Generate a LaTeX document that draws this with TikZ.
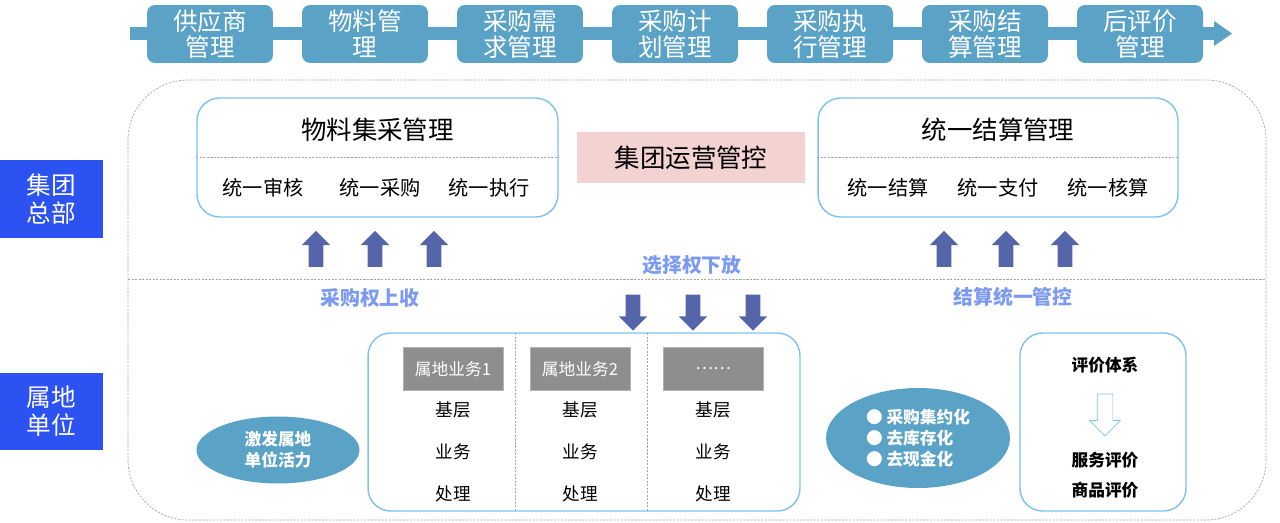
\documentclass[tikz,border=0pt]{standalone}
\usepackage{fontspec}
\setmainfont{Noto Sans CJK SC}
\usepackage{tikz}
\usetikzlibrary{arrows,positioning,shapes.geometric,shapes.arrows}

\definecolor{stepblue}{HTML}{5AA2C6}
\definecolor{deptblue}{HTML}{2D52F2}
\definecolor{frameblue}{HTML}{7DC1EE}
\definecolor{arrowblue}{HTML}{5565A9}
\definecolor{labelblue}{HTML}{7D9AF2}
\definecolor{pinkbg}{HTML}{F3D3D1}
\definecolor{headgray}{HTML}{8E8E8E}

\tikzset{
  stepbox/.style={fill=stepblue, rounded corners=0.16cm, minimum width=2.52cm,
    minimum height=1.16cm, inner sep=0pt, text=white, align=center,
    font=\fontsize{14}{15}\selectfont},
  deptbox/.style={fill=deptblue, minimum width=2.06cm, minimum height=1.56cm,
    inner sep=0pt, text=white, align=center, font=\fontsize{14}{16}\selectfont},
  panel/.style={draw=frameblue, thick, rounded corners=0.45cm, inner sep=0pt},
  gridline/.style={gray!70, dash pattern=on 1.2pt off 0.8pt, thin},
  uparrow/.style={single arrow, fill=arrowblue, rotate=90, inner sep=0.14cm,
    single arrow head extend=0.14cm, single arrow head indent=0pt,
    minimum height=0.72cm, anchor=center},
  downarrow/.style={uparrow, rotate=180},
  flowlabel/.style={text=labelblue, font=\bfseries\fontsize{11.3}{13}\selectfont},
  paneltitle/.style={font=\fontsize{14.5}{16}\selectfont},
  rowtext/.style={font=\fontsize{11.5}{13}\selectfont},
  headbox/.style={fill=headgray, draw=gray!60, minimum width=2.0cm, minimum height=0.86cm,
    inner sep=0pt, text=white, font=\fontsize{9.5}{11}\selectfont},
  cell/.style={font=\fontsize{10}{12}\selectfont},
  blob/.style={ellipse, fill=stepblue, inner sep=0pt, text=white, align=center,
    font=\bfseries\fontsize{9.5}{12}\selectfont},
}

\begin{document}
\begin{tikzpicture}[x=0.02cm,y=-0.02cm]
  \useasboundingbox (0,0) rectangle (1280,523);

  % Draw process band
  \fill[stepblue] (130,27) rectangle (1216,40);
  \fill[stepblue] (1214,21) -- (1232,33.5) -- (1214,46) -- cycle;
  \foreach \name/\txt [count=\i from 0] in {sup/{供应商\\管理}, mat/{物料管\\理},
      dem/{采购需\\求管理}, plan/{采购计\\划管理}, exe/{采购执\\行管理},
      set/{采购结\\算管理}, eval/{后评价\\管理}}
    \node[stepbox] (\name) at (210+155*\i,34) {\txt};

  % Draw outer frame and split line
  \draw[gridline, rounded corners=1.2cm] (128,80) rectangle (1266,520);
  \draw[gridline] (128,279) -- (1266,279);

  % Level labels
  \node[deptbox] (hq) at (51.5,199) {集团\\总部};
  \node[deptbox] (local) at (51.5,411.5) {属地\\单位};

  % Group level boxes
  \node[panel, minimum width=7.22cm, minimum height=2.38cm] (matbox) at (377.5,157.5) {};
  \draw[gridline] (matbox.west) -- (matbox.east);
  \node[paneltitle] (mattitle) at (377.5,130) {物料集采管理};
  \node[rowtext] (m1) at (263,188) {统一审核};
  \node[rowtext] (m2) at (380,188) {统一采购};
  \node[rowtext] (m3) at (489,188) {统一执行};

  \node[fill=pinkbg, minimum width=4.56cm, minimum height=1.02cm,
    font=\fontsize{14.5}{16}\selectfont] (ops) at (691,157.5) {集团运营管控};

  \node[panel, minimum width=7.2cm, minimum height=2.38cm] (setbox) at (998,157.5) {};
  \draw[gridline] (setbox.west) -- (setbox.east);
  \node[paneltitle] (settitle) at (998,130) {统一结算管理};
  \node[rowtext] (s1) at (888,188) {统一结算};
  \node[rowtext] (s2) at (998,188) {统一支付};
  \node[rowtext] (s3) at (1108,188) {统一核算};

  % Arrows between levels
  \foreach \x/\name in {316/ua, 375/ub, 434/uc, 944/ud, 1006/ue, 1065/uf}
    \node[uparrow] (\name) at (\x,252.5) {};
  \foreach \x/\name in {633/da, 693/db, 753/dc}
    \node[downarrow] (\name) at (\x,309) {};
  \node[flowlabel] (up) at (370,298) {采购权上收};
  \node[flowlabel] (down) at (692,265) {选择权下放};
  \node[flowlabel] (ctrl) at (1013,297) {结算统一管控};

  % Local units
  \node[blob, minimum width=3.26cm, minimum height=1.34cm] (vital) at (278,450)
    {激发属地\\单位活力};

  \node[panel, minimum width=8.64cm, minimum height=3.56cm] (biz) at (584,422) {};
  \draw[gridline] (515,333) -- (515,511);
  \draw[gridline] (647,333) -- (647,511);
  \foreach \x/\name/\txt in {453/b1/属地业务1, 580/b2/属地业务2, 713/b3/……} {
    \node[headbox] (\name) at (\x,369) {\txt};
    \node[cell] (\name a) at (\x,410) {基层};
    \node[cell] (\name b) at (\x,452) {业务};
    \node[cell] (\name c) at (\x,494) {处理};
  }

  \node[blob, minimum width=3.68cm, minimum height=2.0cm, align=left] (goal) at (918,438)
    {● 采购集约化\\● 去库存化\\● 去现金化};

  \node[panel, minimum width=3.32cm, minimum height=3.56cm] (evalbox) at (1103,422) {};
  \node[font=\bfseries\fontsize{9.5}{12}\selectfont] (sys) at (1105,365) {评价体系};
  \node[single arrow, draw=frameblue, fill=white, rotate=-90, inner sep=0.15cm,
    single arrow head extend=0.15cm, minimum height=0.84cm] (hollow) at (1105,411) {};
  \node[font=\bfseries\fontsize{9.5}{12}\selectfont] (srv) at (1105,460) {服务评价};
  \node[font=\bfseries\fontsize{9.5}{12}\selectfont] (goods) at (1105,490) {商品评价};
\end{tikzpicture}
\end{document}
